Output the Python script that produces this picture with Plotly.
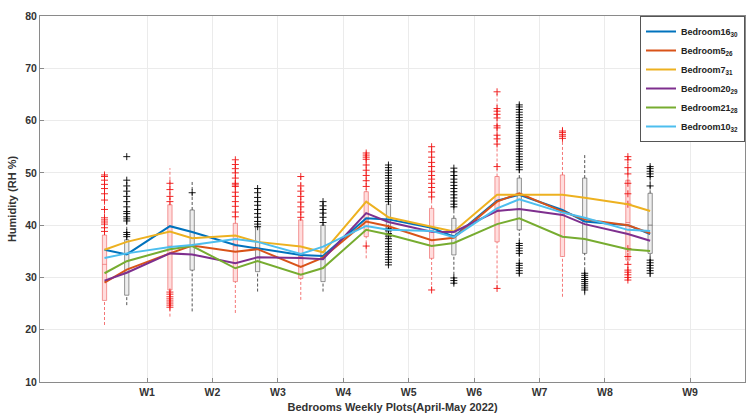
import plotly.graph_objects as go

# ---- weekly humidity data (RH %) ----
weeks = ["W1", "W2", "W3", "W4", "W5", "W6", "W7", "W8", "W9"]
week_ticks = [1, 2, 3, 4, 5, 6, 7, 8, 9.3]

# box positions: first (red) and second (black) group of each week
red_pos = [0.35, 1.35, 2.35, 3.35, 4.35, 5.35, 6.35, 7.35, 8.35]
blk_pos = [0.69, 1.69, 2.69, 3.69, 4.69, 5.69, 6.69, 7.69, 8.69]

# red group statistics
red_lo = [20.9, 22.5, 23.2, 25.7, 33.65, 27.6, 27.9, 26.3, 29.5]
red_q1 = [25.6, 27.6, 29.2, 29.8, 37.8, 33.65, 36.8, 34.0, 33.3]
red_med = [32.5, 36.0, 36.0, 34.0, 41.0, 39.0, 43.0, 42.0, 40.5]
red_q3 = [38.1, 43.9, 40.35, 41.0, 46.4, 43.2, 49.3, 49.6, 48.6]
red_hi = [49.6, 50.9, 52.5, 49.3, 53.8, 55.0, 65.5, 58.8, 53.4]
red_pts = [
    [38.8, 39.5, 40.2, 40.6, 41.0, 41.4, 43.0, 44.8, 46.0, 47.0, 47.8, 48.6, 49.3, 49.6],
    [24.3, 24.7, 25.1, 25.5, 25.9, 26.3, 26.8, 27.2, 44.5, 45.5, 46.8, 48.0],
    [41.6, 42.5, 43.6, 44.5, 45.5, 46.3, 47.4, 47.7, 48.0, 49.0, 50.0, 50.8, 51.6, 52.5],
    [41.5, 42.5, 43.5, 44.4, 45.5, 46.5, 47.5, 49.3],
    [36.0, 47.4, 48.5, 49.5, 50.5, 51.5, 52.6, 53.0, 53.4, 53.8],
    [27.6, 45.4, 46.3, 47.2, 48.0, 48.8, 49.5, 50.3, 51.2, 52.0, 53.0, 54.0, 55.0],
    [27.9, 51.2, 55.5, 56.5, 57.2, 58.6, 59.0, 60.5, 61.2, 61.8, 62.3, 65.5],
    [56.6, 57.0, 57.3, 57.7, 58.0],
    [29.5, 30.0, 30.5, 31.0, 31.4, 32.5, 34.0, 35.5, 44.0, 46.0, 48.0, 49.8, 51.0, 52.5, 53.1],
]

# black group statistics
blk_lo = [24.7, 23.5, 27.3, 27.3, 32.4, 28.6, 30.3, 26.6, 30.1]
blk_q1 = [26.6, 31.4, 31.1, 29.2, 37.5, 34.3, 39.1, 34.6, 34.6]
blk_med = [31.0, 36.0, 35.5, 34.0, 41.0, 38.0, 43.0, 41.0, 40.0]
blk_q3 = [37.2, 42.9, 39.7, 40.0, 44.0, 41.3, 49.0, 49.0, 46.1]
blk_hi = [48.6, 48.3, 47.0, 44.5, 51.5, 50.9, 63.0, 53.7, 51.2]
blk_pts = [
    [37.8, 38.2, 38.6, 40.8, 41.2, 41.6, 42.2, 42.6, 43.5, 44.5, 45.5, 46.5, 47.5, 48.6, 53.1],
    [46.2],
    [39.7, 40.2, 40.7, 41.5, 42.2, 43.0, 43.8, 44.5, 45.3, 46.2, 47.0],
    [40.5, 41.5, 42.3, 43.0, 43.7, 44.5],
    [32.4, 32.9, 33.4, 33.9, 34.4, 34.9, 35.4, 35.9, 36.4, 36.9, 37.4, 37.9, 38.4,
     38.9, 39.4, 44.5, 45.0, 45.5, 46.0, 46.5, 47.0, 47.5, 48.0, 48.5, 49.0, 49.5,
     50.0, 50.5, 51.0, 51.5],
    [28.9, 29.4, 29.9, 43.5, 44.0, 44.6, 45.2, 45.8, 46.4, 47.0, 47.6, 48.2, 48.8, 49.5, 50.2, 50.9],
    [30.8, 31.3, 31.8, 32.3, 32.7, 34.6, 35.1, 35.6, 36.1, 36.5, 50.6, 51.1, 51.6, 52.1,
     52.6, 53.1, 53.6, 54.1, 54.6, 55.1, 55.6, 56.1, 56.6, 57.1, 57.6, 58.1, 58.6,
     59.1, 59.6, 60.1, 60.6, 61.1, 61.6, 62.1, 62.6, 63.0],
    [27.6, 28.0, 28.4, 28.8, 29.2, 29.6, 30.0, 30.4, 30.8],
    [30.8, 31.3, 31.8, 32.3, 32.8, 33.3, 47.5, 49.3, 49.8, 50.3, 50.8, 51.2],
]

# per-bedroom medians, alternating red / black group of each week
bedroom_names = ["Bedroom16<sub>30</sub>", "Bedroom5<sub>26</sub>", "Bedroom7<sub>31</sub>",
                 "Bedroom20<sub>29</sub>", "Bedroom21<sub>28</sub>", "Bedroom10<sub>32</sub>"]
bedroom16 = [35.3, 34.4, 39.8, 38.7, 36.2, 35.6, 34.3, 34.1, 41.3, 41.1, 39.5, 37.8, 44.7, 45.8, 42.9, 40.7, 40.0, 38.3]
bedroom5 = [29.0, 31.5, 34.6, 36.1, 34.9, 35.4, 32.0, 33.8, 40.7, 39.8, 37.1, 37.6, 44.5, 46.1, 42.6, 41.1, 40.0, 38.45]
bedroom7 = [35.3, 36.8, 38.8, 37.5, 38.0, 36.8, 35.9, 34.8, 44.5, 41.5, 39.7, 38.8, 45.8, 45.8, 45.8, 45.25, 44.0, 42.7]
bedroom20 = [29.4, 30.9, 34.6, 34.4, 32.7, 33.85, 33.7, 33.5, 42.3, 40.6, 38.75, 38.7, 42.7, 43.1, 41.95, 40.2, 38.3, 37.0]
bedroom21 = [30.8, 33.1, 35.4, 36.0, 31.75, 33.15, 30.5, 31.8, 39.1, 38.2, 36.0, 36.6, 40.2, 41.3, 37.8, 37.35, 35.4, 35.05]
bedroom10 = [33.7, 34.6, 35.8, 36.2, 37.35, 36.8, 34.5, 35.9, 39.85, 39.1, 38.9, 37.7, 43.2, 44.95, 42.4, 41.4, 39.1, 38.9]
bedroom_series = [bedroom16, bedroom5, bedroom7, bedroom20, bedroom21, bedroom10]
line_colors = ["#0072BD", "#D95319", "#EDB120", "#7E2F8E", "#77AC30", "#4DBEEE"]

line_x = []
for r, b in zip(red_pos, blk_pos):
    line_x += [r, b]

fig = go.Figure()


def add_group(pos, lo, q1, med, q3, hi, pts, line_col, fill_col, whisk_col, mark_col):
    # dashed whiskers
    wx, wy = [], []
    for p, a, b, c, d in zip(pos, lo, q1, q3, hi):
        wx += [p, p, None, p, p, None]
        wy += [a, b, None, c, d, None]
    fig.add_trace(go.Scatter(x=wx, y=wy, mode="lines", showlegend=False, hoverinfo="skip",
                             line=dict(color=whisk_col, width=1, dash="3px,2px")))
    # boxes
    fig.add_trace(go.Box(x=pos, q1=q1, median=med, q3=q3, lowerfence=q1, upperfence=q3,
                         width=0.065, whiskerwidth=0, boxpoints=False, showlegend=False,
                         line=dict(color=line_col, width=1), fillcolor=fill_col))
    # individual readings
    px, py = [], []
    for p, vals in zip(pos, pts):
        px += [p] * len(vals)
        py += vals
    fig.add_trace(go.Scatter(x=px, y=py, mode="markers", showlegend=False, hoverinfo="skip",
                             marker=dict(symbol="cross-thin", size=5,
                                         line=dict(color=mark_col, width=1))))


add_group(red_pos, red_lo, red_q1, red_med, red_q3, red_hi, red_pts,
          "rgba(235,90,90,0.6)", "rgba(255,170,170,0.4)", "rgba(240,60,60,0.7)", "rgba(240,20,20,0.9)")
add_group(blk_pos, blk_lo, blk_q1, blk_med, blk_q3, blk_hi, blk_pts,
          "rgba(90,90,90,0.65)", "rgba(200,200,200,0.3)", "rgba(40,40,40,0.8)", "rgba(0,0,0,0.9)")

for name, vals, col in zip(bedroom_names, bedroom_series, line_colors):
    fig.add_trace(go.Scatter(x=line_x, y=vals, mode="lines", name=name,
                             line=dict(color=col, width=2)))

axis_font = dict(family="Arial", size=10.5, color="#333", weight="bold")
fig.update_layout(
    width=747, height=414,
    margin=dict(l=40, r=2, t=16, b=32),
    paper_bgcolor="white", plot_bgcolor="white",
    font=dict(family="Arial", color="#333"),
    showlegend=True,
    legend=dict(x=1, xanchor="right", y=1, yanchor="top",
                bgcolor="white", bordercolor="#555", borderwidth=1,
                font=dict(family="Arial", size=9, color="#222", weight="bold"),
                itemwidth=30, tracegroupgap=0),
    xaxis=dict(range=[-0.636, 10.14], tickvals=week_ticks, ticktext=weeks,
               showgrid=True, gridcolor="#ebebeb", zeroline=False,
               showline=True, mirror=True, linecolor="#8a8a8a", linewidth=1,
               ticks="inside", ticklen=4, tickcolor="#8a8a8a",
               tickfont=axis_font,
               title=dict(text="Bedrooms Weekly Plots(April-May 2022)", standoff=6,
                          font=dict(family="Arial", size=11, color="#333", weight="bold"))),
    yaxis=dict(range=[10, 80], dtick=10,
               showgrid=True, gridcolor="#ebebeb", zeroline=False,
               showline=True, mirror=True, linecolor="#8a8a8a", linewidth=1,
               ticks="inside", ticklen=4, tickcolor="#8a8a8a",
               tickfont=axis_font,
               title=dict(text="Humidity (RH %)", standoff=6,
                          font=dict(family="Arial", size=11, color="#333", weight="bold"))),
)

fig.write_html("out.html")
